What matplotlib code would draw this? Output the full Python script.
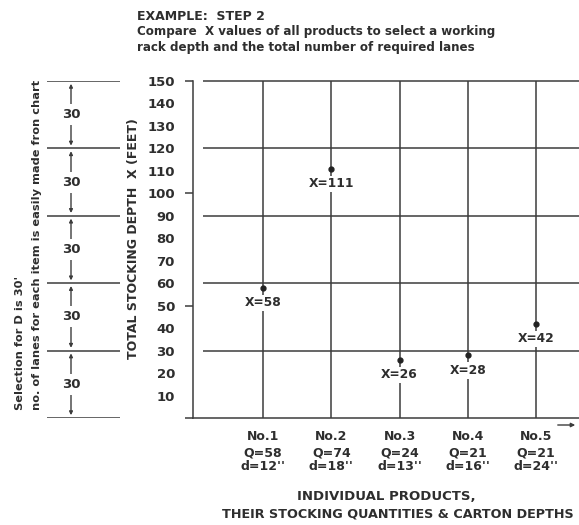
import matplotlib
matplotlib.use("Agg")
import matplotlib.pyplot as plt
from matplotlib.transforms import blended_transform_factory

plt.rcParams['font.family'] = ['DejaVu Sans']
plt.rcParams['font.weight'] = 'bold'

# data
products = ['No.1', 'No.2', 'No.3', 'No.4', 'No.5']
quantities = [58, 74, 24, 21, 21]
carton_depths = [12, 18, 13, 16, 24]
stocking_depth = [58, 111, 26, 28, 42]
y_ticks = list(range(10, 151, 10))
lane_depths = [30, 30, 30, 30, 30]

INK = '#2e2e2e'
LINE = '#3c3c3c'
W, H = 579, 525


def fx(px):
    return px / W


def fy(py):
    return 1 - py / H


fig = plt.figure(figsize=(W / 100, H / 100), dpi=100)
fig.patch.set_facecolor('white')

# main chart
ax = fig.add_axes([fx(193), fy(418), fx(579 - 193), (418 - 81) / H])
xpos = list(range(1, len(products) + 1))
ax.set_xlim(-0.026, 5.63)
ax.set_ylim(0, 150)

for s in ['top', 'right']:
    ax.spines[s].set_visible(False)
for s in ['left', 'bottom']:
    ax.spines[s].set_color(LINE)
    ax.spines[s].set_linewidth(1.1)

ax.hlines(range(30, 151, 30), 0.12, 5.63, color=LINE, lw=1.1, clip_on=False)
ax.vlines(xpos, 0, 150, color=LINE, lw=1.1)

ax.set_xticks([])
ax.set_yticks(y_ticks)
ax.set_yticklabels([str(v) for v in y_ticks], fontsize=9.5, color=INK)
ax.tick_params(axis='y', length=0, pad=13)
ax.set_yticks([0, 50, 100, 150], minor=True)
ax.yaxis.remove_overlapping_locs = False
ax.tick_params(axis='y', which='minor', length=6, width=1.1, color=LINE, direction='out')

ax.plot(xpos, stocking_depth, 'o', ms=3.5, color='#222222', zorder=4)
for x, v in zip(xpos, stocking_depth):
    ax.annotate(f'X={v}', (x, v), xytext=(0, -11), textcoords='offset points',
                ha='center', va='center', fontsize=8.8, color=INK, zorder=5,
                bbox=dict(boxstyle='square,pad=0.15', fc='white', ec='none'))

# product labels under the axis
tr = blended_transform_factory(ax.transData, fig.transFigure)
for x, name, q, d in zip(xpos, products, quantities, carton_depths):
    ax.text(x, fy(437), name, transform=tr, ha='center', va='center', fontsize=9, color=INK)
    ax.text(x, fy(453), f'Q={q}', transform=tr, ha='center', va='center', fontsize=9, color=INK)
    ax.text(x, fy(466), f"d={d}''", transform=tr, ha='center', va='center', fontsize=9, color=INK)

ax.annotate('', xy=(fx(578), fy(425)), xytext=(fx(555), fy(425)), xycoords='figure fraction',
            arrowprops=dict(arrowstyle='-|>', color=LINE, lw=1.0, mutation_scale=6))

fig.text(fx(386), fy(496), 'INDIVIDUAL PRODUCTS,', ha='center', va='center',
         fontsize=9.5, color=INK)
fig.text(fx(398), fy(514), 'THEIR STOCKING QUANTITIES & CARTON DEPTHS', ha='center', va='center',
         fontsize=9.2, color=INK)

# y axis label
fig.text(fx(133), fy(239), 'TOTAL STOCKING DEPTH  X (FEET)', rotation=90, ha='center', va='center',
         fontsize=9, color=INK)

# left dimension panel, same y scale as the chart
axl = fig.add_axes([0, fy(418), fx(193), (418 - 81) / H])
axl.set_xlim(0, 193)
axl.set_ylim(0, 150)
axl.axis('off')
bounds = [0]
for d in lane_depths:
    bounds.append(bounds[-1] + d)
axl.hlines(bounds, 47, 120, color=LINE, lw=1.1)
for lo, hi, d in zip(bounds[:-1], bounds[1:], lane_depths):
    axl.annotate('', xy=(71, hi), xytext=(71, lo),
                 arrowprops=dict(arrowstyle='<|-|>', color=LINE, lw=1.0, mutation_scale=5,
                                 shrinkA=2, shrinkB=2))
    axl.text(71, (lo + hi) / 2, str(d), ha='center', va='center', fontsize=9.5, color=INK,
             bbox=dict(boxstyle='square,pad=0.3', fc='white', ec='none'))

fig.text(fx(20), fy(410), "Selection for D is 30'", rotation=90, ha='center', va='bottom',
         fontsize=8.2, color=INK)
fig.text(fx(37), fy(410), 'no. of lanes for each item is easily made fron chart', rotation=90,
         ha='center', va='bottom', fontsize=8.2, color=INK)

# header
fig.text(fx(137), fy(17), 'EXAMPLE:  STEP 2', ha='left', va='center', fontsize=9, color=INK)
fig.text(fx(137), fy(32), 'Compare  X values of all products to select a working', ha='left',
         va='center', fontsize=8.6, color=INK)
fig.text(fx(137), fy(47), 'rack depth and the total number of required lanes', ha='left',
         va='center', fontsize=8.6, color=INK)

fig.savefig('out.png', dpi=100, facecolor='white')
